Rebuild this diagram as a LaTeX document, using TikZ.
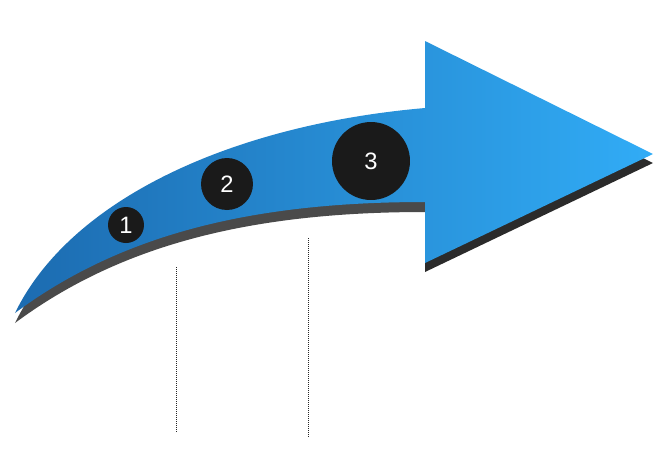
\documentclass[tikz,border=0pt]{standalone}
\usepackage{fontspec}
\setmainfont{Liberation Sans}
\usetikzlibrary{positioning}
\definecolor{arrdark}{HTML}{1C6BB0}
\definecolor{arrlight}{HTML}{31ACF6}
\definecolor{bandgray}{HTML}{4A4A4A}
\definecolor{headshade}{HTML}{2B2B2B}
\definecolor{dotink}{HTML}{1A1A1A}
\tikzset{
  num/.style={circle, fill=dotink, text=white, inner sep=0pt, font=\fontsize{13.5}{15}\selectfont},
  guide/.style={draw=black!85, line width=0.55pt, dash pattern=on 0.57pt off 0.57pt},
}

\begin{document}
\begin{tikzpicture}[x=0.02cm, y=-0.02cm]
    \useasboundingbox (0,0) rectangle (664,454);
    % shadows
    \fill[bandgray, shift={(0,10)}] (15,313) .. controls (70,200) and (230,125) .. (425,108)
      -- (425,202) .. controls (250,202) and (120,235) .. (15,313) -- cycle;
    \fill[headshade] (425,50) -- (653,163) -- (425,272) -- cycle;
    % arrow body
    \shade[left color=arrdark, right color=arrlight] (15,313) .. controls (70,200) and (230,125) .. (425,108)
      -- (425,41) -- (653,154) -- (425,263) -- (425,202)
      .. controls (250,202) and (120,235) .. (15,313) -- cycle;
    % steps
    \node[num, minimum size=0.72cm] (n1) at (126,225) {1};
    \node[num, minimum size=1.04cm] (n2) at (227,184) {2};
    \node[num, minimum size=1.56cm] (n3) at (371,161) {3};
    % guides
    \coordinate (g1a) at (176,267);
    \coordinate (g1b) at (176,433);
    \coordinate (g2a) at (308,238);
    \coordinate (g2b) at (308,438);
    \draw[guide] (g1a) -- (g1b);
    \draw[guide] (g2a) -- (g2b);
  \end{tikzpicture}
\end{document}
